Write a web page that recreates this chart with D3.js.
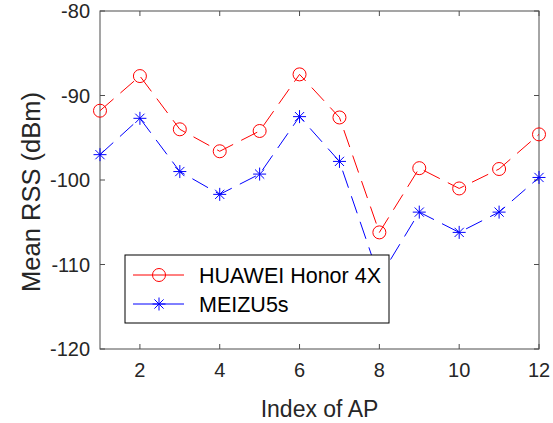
<!DOCTYPE html>
<html>
<head>
<meta charset="utf-8">
<script src="https://cdn.jsdelivr.net/npm/d3@7"></script>
<style>
  body { margin: 0; background: #fff; }
  text { font-family: "Liberation Sans", Arial, sans-serif; fill: #262626; }
</style>
</head>
<body>
<div id="chart"></div>
<script>
// data
const apIndex = [1, 2, 3, 4, 5, 6, 7, 8, 9, 10, 11, 12];
const huawei = [-91.8, -87.7, -94.0, -96.6, -94.2, -87.5, -92.6, -106.2, -98.6, -101.0, -98.7, -94.6];
const meizu = [-97.0, -92.7, -99.0, -101.7, -99.3, -92.5, -97.8, -111.6, -103.8, -106.2, -103.8, -99.7];
const xTicks = [2, 4, 6, 8, 10, 12];
const yTicks = [-120, -110, -100, -90, -80];
const seriesNames = ["HUAWEI Honor 4X", "MEIZU5s"];

const width = 553, height = 423;
const m = { left: 100, right: 539, top: 11, bottom: 349 };
const axisColor = "#4d4d4d";

const svg = d3.select("#chart").append("svg")
  .attr("width", width)
  .attr("height", height);

const x = d3.scaleLinear().domain([1, 12]).range([m.left, m.right]);
const y = d3.scaleLinear().domain([-120, -80]).range([m.bottom, m.top]);

// axes box
svg.append("rect")
  .attr("x", m.left).attr("y", m.top)
  .attr("width", m.right - m.left).attr("height", m.bottom - m.top)
  .attr("fill", "none").attr("stroke", axisColor).attr("stroke-width", 1);

// ticks pointing inward, on all four sides
const tickLen = 5;
xTicks.forEach(t => {
  svg.append("line").attr("x1", x(t)).attr("x2", x(t)).attr("y1", m.bottom).attr("y2", m.bottom - tickLen)
    .attr("stroke", axisColor);
  svg.append("line").attr("x1", x(t)).attr("x2", x(t)).attr("y1", m.top).attr("y2", m.top + tickLen)
    .attr("stroke", axisColor);
  svg.append("text").attr("x", x(t)).attr("y", 377)
    .attr("text-anchor", "middle").style("font-size", "20px")
    .text(t);
});
yTicks.forEach(t => {
  svg.append("line").attr("x1", m.left).attr("x2", m.left + tickLen).attr("y1", y(t)).attr("y2", y(t))
    .attr("stroke", axisColor);
  svg.append("line").attr("x1", m.right).attr("x2", m.right - tickLen).attr("y1", y(t)).attr("y2", y(t))
    .attr("stroke", axisColor);
  svg.append("text").attr("x", 90).attr("y", y(t)).attr("dy", "0.36em")
    .attr("text-anchor", "end").style("font-size", "20px")
    .text(t);
});

// axis labels
svg.append("text").attr("x", (m.left + m.right) / 2).attr("y", 417)
  .attr("text-anchor", "middle").style("font-size", "23px")
  .text("Index of AP");
svg.append("text")
  .attr("transform", "translate(40,192) rotate(-90)")
  .attr("text-anchor", "middle").style("font-size", "25.5px")
  .text("Mean RSS (dBm)");

// markers
function circleMarker(g, color) {
  g.append("circle").attr("r", 6.5).attr("fill", "none").attr("stroke", color);
}
function starMarker(g, color) {
  const r = 6.5, d = 4.6;
  [[-r, 0, r, 0], [0, -r, 0, r], [-d, -d, d, d], [-d, d, d, -d]].forEach(s => {
    g.append("line").attr("x1", s[0]).attr("y1", s[1]).attr("x2", s[2]).attr("y2", s[3])
      .attr("stroke", color);
  });
}

const series = [
  { name: seriesNames[0], values: huawei, color: "#ff0000", marker: circleMarker },
  { name: seriesNames[1], values: meizu, color: "#0000ff", marker: starMarker }
];

const line = d3.line().x((d, i) => x(apIndex[i])).y(d => y(d));

series.forEach(s => {
  svg.append("path")
    .attr("d", line(s.values))
    .attr("fill", "none")
    .attr("stroke", s.color)
    .attr("stroke-width", 1)
    .attr("stroke-dasharray", "18,9");
  s.values.forEach((v, i) => {
    const g = svg.append("g").attr("transform", `translate(${x(apIndex[i])},${y(v)})`);
    s.marker(g, s.color);
  });
});

// legend
const lg = svg.append("g");
lg.append("rect")
  .attr("x", 125).attr("y", 255).attr("width", 264).attr("height", 68)
  .attr("fill", "#fff").attr("stroke", "#000").attr("stroke-width", 1);
series.forEach((s, i) => {
  const ly = 275 + i * 29;
  lg.append("line").attr("x1", 133).attr("x2", 184).attr("y1", ly).attr("y2", ly)
    .attr("stroke", s.color);
  const g = lg.append("g").attr("transform", `translate(159,${ly})`);
  s.marker(g, s.color);
  lg.append("text").attr("x", 199).attr("y", ly).attr("dy", "0.36em")
    .style("font-size", "21.5px").style("fill", "#000")
    .text(s.name);
});
</script>
</body>
</html>
